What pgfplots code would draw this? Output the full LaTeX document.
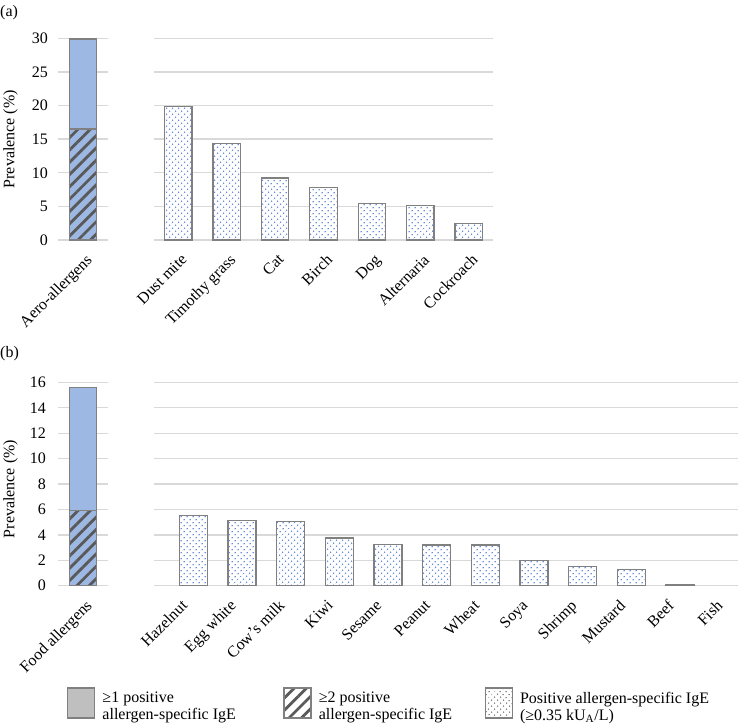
\documentclass[border=0pt]{standalone}
\usepackage{fontspec}
\setmainfont{Liberation Serif}
\usepackage{pgfplots}
\pgfplotsset{compat=1.18}
\usetikzlibrary{patterns.meta}
\definecolor{aeroblue}{RGB}{158,184,228}
\definecolor{bordergray}{RGB}{128,128,128}
\definecolor{hatchgray}{RGB}{89,89,89}
\definecolor{dotblue}{RGB}{90,130,210}
\definecolor{gridgray}{RGB}{217,217,217}
\definecolor{legendgray}{RGB}{191,191,191}
\pgfplotsset{
  mybase/.style={
    scale only axis,
    anchor=south west,
    ymin=0,
    enlargelimits=false,
    axis line style={draw=none},
    major tick length=0pt,
    xtick style={draw=none}, ytick style={draw=none},
    ymajorgrids,
    grid style={color=gridgray, line width=1.3pt},
    tick label style={font=\fontsize{16}{19}\selectfont},
    /pgf/number format/assume math mode=true,
    xticklabel style={xshift=2pt, yshift=-13pt, rotate=45, anchor=north east, inner sep=0pt},
    yticklabel style={anchor=east, inner sep=0pt, xshift=-10pt},
    ylabel style={font=\fontsize{16}{19}\selectfont, anchor=center},
    clip=false,
  },
  hatchbar/.style={fill=aeroblue, draw=bordergray, line width=1.3pt,
    postaction={pattern={Lines[angle=45,distance=8.7pt,line width=2.8pt]}, pattern color=hatchgray}},
  plainbar/.style={fill=aeroblue, draw=bordergray, line width=1.3pt},
  dotbar/.style={fill=white, draw=bordergray, line width=1.3pt,
    postaction={pattern={Dots[angle=45,distance=4pt,radius=0.85pt]}, pattern color=dotblue}},
}
\begin{document}
\begin{tikzpicture}
\useasboundingbox (0pt,0pt) rectangle (738pt,724pt);
\node[anchor=west, inner sep=0pt, font=\fontsize{16}{19}\selectfont] at (0pt,711.5pt) {(a)};
\node[anchor=west, inner sep=0pt, font=\fontsize{16}{19}\selectfont] at (0pt,370.5pt) {(b)};
% ---------- (a) left
\begin{axis}[mybase, at={(58pt,484pt)}, width=50pt, height=201.7pt,
  ymax=30, ytick={0,5,...,30},
  xmin=-0.5, xmax=0.5, xtick={0}, xticklabels={Aero-allergens},
  ybar stacked, bar width=27pt,
  ylabel={Prevalence (\%)},
  ylabel style={at={(axis description cs:-0.95,0.5)}}]
\addplot[hatchbar] coordinates {(0,16.5)};
\addplot[plainbar] coordinates {(0,13.4)};
\end{axis}
% ---------- (a) right
\begin{axis}[mybase, at={(154pt,484pt)}, width=339pt, height=201.7pt,
  ymax=30, ytick={0,5,...,30}, yticklabels={},
  xmin=-0.5, xmax=6.5, xtick={0,...,6},
  xticklabels={Dust mite, Timothy grass, Cat, Birch, Dog, Alternaria, Cockroach},
  ybar, bar width=27.5pt]
\addplot[dotbar] coordinates {(0,19.9) (1,14.4) (2,9.2) (3,7.8) (4,5.4) (5,5.1) (6,2.5)};
\end{axis}
% ---------- (b) left
\begin{axis}[mybase, at={(58pt,138.3pt)}, width=50pt, height=203.4pt,
  ymax=16, ytick={0,2,...,16},
  yticklabel style={xshift=-2pt},
  xmin=-0.5, xmax=0.5, xtick={0}, xticklabels={Food allergens},
  ybar stacked, bar width=27pt,
  ylabel={Prevalence (\%)},
  ylabel style={at={(axis description cs:-0.95,0.475)}}]
\addplot[hatchbar] coordinates {(0,5.9)};
\addplot[plainbar] coordinates {(0,9.7)};
\end{axis}
% ---------- (b) right
\begin{axis}[mybase, at={(154pt,138.3pt)}, width=584pt, height=203.4pt,
  ymax=16, ytick={0,2,...,16}, yticklabels={},
  xmin=-0.5, xmax=11.5, xtick={0,...,11},
  xticklabels={Hazelnut, Egg white, Cow’s milk, Kiwi, Sesame, Peanut, Wheat, Soya, Shrimp, Mustard, Beef, Fish},
  ybar, bar width=28pt,
  legend columns=3,
  legend cell align=left,
  legend style={at={(axis description cs:-0.149,-0.498)}, anchor=north west,
    draw=none, fill=none, inner sep=0pt, column sep=0pt,
    nodes={inner sep=0pt}, font=\fontsize{16}{17}\selectfont}]
\addplot[dotbar, forget plot] coordinates {(0,5.5) (1,5.15) (2,5.05) (3,3.75) (4,3.25) (5,3.2) (6,3.2) (7,2.0) (8,1.5) (9,1.3) (10,0.1)};
\addlegendimage{legend image code/.code={\draw[fill=legendgray, draw=bordergray, line width=1.3pt] (0pt,-15pt) rectangle (27pt,15pt);}}
\addlegendentry{\hspace{7pt}\parbox[c]{181pt}{≥1 positive\\allergen-specific IgE}}
\addlegendimage{legend image code/.code={\draw[fill=white, draw=bordergray, line width=1.3pt, postaction={pattern={Lines[angle=45,distance=8.7pt,line width=2.8pt]}, pattern color=hatchgray}] (0pt,-15pt) rectangle (27pt,15pt);}}
\addlegendentry{\hspace{7pt}\parbox[c]{166pt}{≥2 positive\\allergen-specific IgE}}
\addlegendimage{legend image code/.code={\draw[fill=white, draw=bordergray, line width=1.3pt, postaction={pattern={Dots[angle=45,distance=4pt,radius=0.85pt]}, pattern color=bordergray}] (0pt,-15pt) rectangle (27pt,15pt);}}
\addlegendentry{\hspace{7pt}\parbox[c]{215pt}{Positive allergen-specific IgE\\(≥0.35 kU\textsubscript{A}/L)}}
\end{axis}
\end{tikzpicture}
\end{document}
